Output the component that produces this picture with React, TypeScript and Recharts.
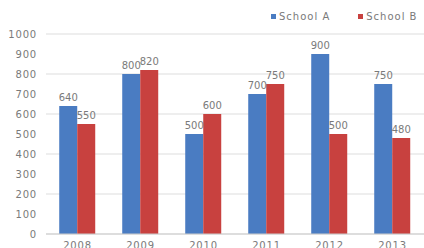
import React from 'react';
import { BarChart, Bar, XAxis, YAxis, CartesianGrid, Legend, LabelList } from 'recharts';

const years = ["2008", "2009", "2010", "2011", "2012", "2013"];
const schoolA = [640, 800, 500, 700, 900, 750];
const schoolB = [550, 820, 600, 750, 500, 480];
const yTicks = [0, 100, 200, 300, 400, 500, 600, 700, 800, 900, 1000];

const data = years.map((year, i) => ({ year, a: schoolA[i], b: schoolB[i] }));

const blue = "#4a7cc2";
const red = "#c8413f";
const text = "#7a7a7a";
const grid = "#dddddd";
const font = "'DejaVu Sans', sans-serif";
const tickStyle = { fill: text, fontSize: 10, fontFamily: font, letterSpacing: 0.8 };

const renderLegend = (props: any) => {
  const items = props.payload || [];
  return (
    <div style={{ display: "flex", fontFamily: font, fontSize: 10, letterSpacing: 1, color: text, whiteSpace: "nowrap" }}>
      {items.map((entry: any) => (
        <div key={entry.value} style={{ display: "flex", alignItems: "center", marginRight: 28 }}>
          <span style={{ width: 5, height: 5, background: entry.color, marginRight: 3, display: "inline-block" }} />
          {entry.value}
        </div>
      ))}
    </div>
  );
};

const App: React.FC = () => {
  return (
    <div style={{ position: "absolute", left: 0, top: 0, width: 424, height: 248, overflow: "hidden", background: "#fff" }}>
      <BarChart
        width={424}
        height={248}
        data={data}
        margin={{ top: 10, right: 0, left: 0, bottom: 0 }}
        barCategoryGap="21%"
        barGap={0}
      >
        <CartesianGrid stroke={grid} vertical={false} />
        <Legend
          verticalAlign="top"
          height={24}
          content={renderLegend}
          wrapperStyle={{ left: 271, top: 11, width: 220 }}
        />
        <XAxis
          dataKey="year"
          height={14}
          tickLine={false}
          axisLine={{ stroke: "#cccccc" }}
          tick={tickStyle}
          tickMargin={2}
        />
        <YAxis
          domain={[0, 1000]}
          ticks={yTicks}
          width={46}
          tickLine={false}
          axisLine={false}
          tick={tickStyle}
          tickMargin={3}
        />
        <Bar dataKey="a" name="School A" fill={blue} isAnimationActive={false}>
          <LabelList dataKey="a" position="top" fill={text} fontSize={10} fontFamily={font} />
        </Bar>
        <Bar dataKey="b" name="School B" fill={red} isAnimationActive={false}>
          <LabelList dataKey="b" position="top" fill={text} fontSize={10} fontFamily={font} />
        </Bar>
      </BarChart>
    </div>
  );
};

export default App;
